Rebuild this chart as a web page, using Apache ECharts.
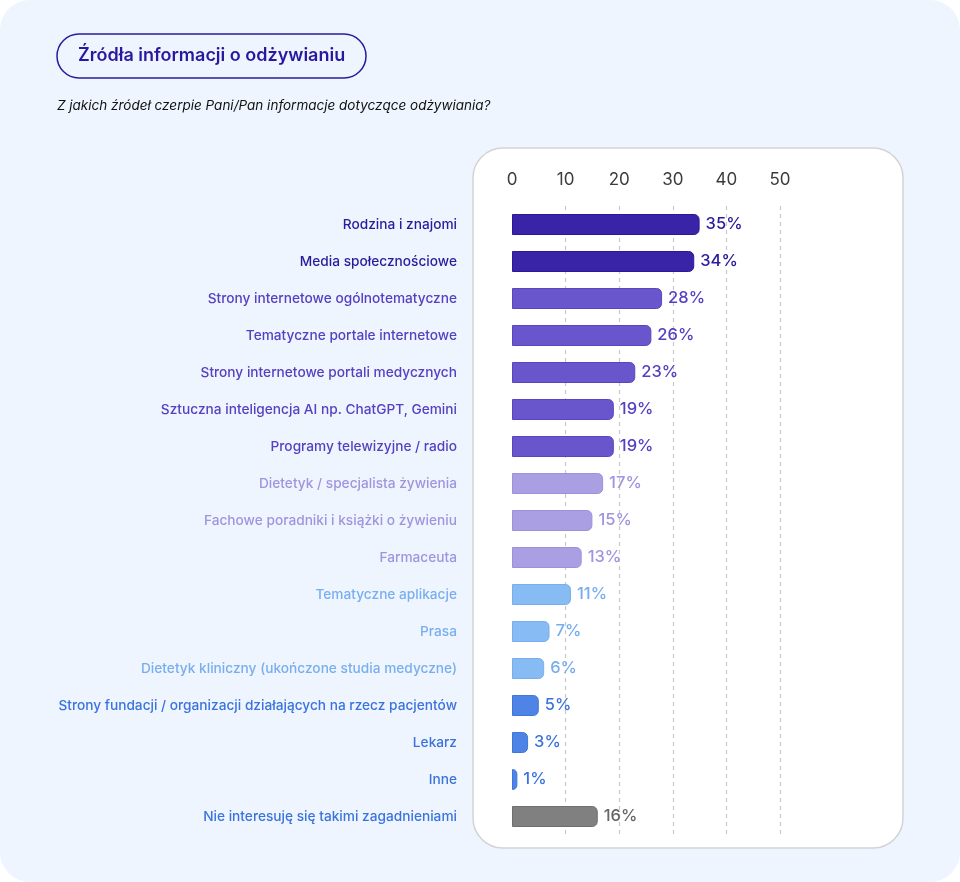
<!DOCTYPE html>
<html><head><meta charset="utf-8">
<script src="https://cdn.jsdelivr.net/npm/echarts@6/dist/echarts.min.js"></script>
<style>html,body{margin:0;padding:0;background:#fff;}#c{width:960px;height:882px;}</style>
</head><body><div id="c"></div>
<script>
const categories = [
  "Rodzina i znajomi",
  "Media społecznościowe",
  "Strony internetowe ogólnotematyczne",
  "Tematyczne portale internetowe",
  "Strony internetowe portali medycznych",
  "Sztuczna inteligencja AI np. ChatGPT, Gemini",
  "Programy telewizyjne / radio",
  "Dietetyk / specjalista żywienia",
  "Fachowe poradniki i książki o żywieniu",
  "Farmaceuta",
  "Tematyczne aplikacje",
  "Prasa",
  "Dietetyk kliniczny (ukończone studia medyczne)",
  "Strony fundacji / organizacji działających na rzecz pacjentów",
  "Lekarz",
  "Inne",
  "Nie interesuję się takimi zagadnieniami"
];
const values = [35, 34, 28, 26, 23, 19, 19, 17, 15, 13, 11, 7, 6, 5, 3, 1, 16];
const groups = ["dark","dark","mid","mid","mid","mid","mid","lav","lav","lav","lblue","lblue","lblue","blue","blue","blue","gray"];
const labelGroups = ["dark","dark","mid","mid","mid","mid","mid","lav","lav","lav","lblue","lblue","lblue","blue","blue","blue","blue"];
const tickValues = [0, 10, 20, 30, 40, 50];
const titleText = "Źródła informacji o odżywianiu";
const subtitleText = "Z jakich źródeł czerpie Pani/Pan informacje dotyczące odżywiania?";

const palette = {
  dark:  {fill:"#3924a8", border:"#2c1896", text:"#2a1a9c"},
  mid:   {fill:"#6a56cc", border:"#5a45c0", text:"#5640c2"},
  lav:   {fill:"#ab9fe4", border:"#9d90dc", text:"#a094df"},
  lblue: {fill:"#87bbf4", border:"#78aeee", text:"#79aeee"},
  blue:  {fill:"#4e84e6", border:"#3f76dd", text:"#3b73de"},
  gray:  {fill:"#808080", border:"#6f6f6f", text:"#666666"}
};
const FONT = "Inter, 'Noto Sans', sans-serif";

const chart = echarts.init(document.getElementById('c'));
chart.setOption({
  animation: false,
  textStyle: {fontFamily: FONT},
  graphic: [
    {type:'rect', z:-10, shape:{x:0,y:0,width:960,height:882,r:30}, style:{fill:'#eef5fe'}},
    {type:'rect', z:-9, shape:{x:473,y:148,width:430,height:700,r:30}, style:{fill:'#ffffff', stroke:'#d3d3d3', lineWidth:1.5}}
  ],
  title: [
    {text: titleText, left: 57, top: 34, padding: [13, 21, 13, 21], borderColor:'#2a1aa0', borderWidth:1.5, borderRadius:23,
     textStyle:{fontFamily:FONT, fontSize:18, fontWeight:600, color:'#2a17a0'}},
    {text: subtitleText, left: 52, top: 94,
     textStyle:{fontFamily:FONT, fontSize:13.5, fontWeight:400, fontStyle:'italic', color:'#111'}}
  ],
  grid: {left: 512, right: 180, top: 206, bottom: 47, containLabel: false},
  xAxis: {
    type:'value', position:'top', min: tickValues[0], max: tickValues[tickValues.length-1], interval: 10,
    axisLine:{show:false}, axisTick:{show:false},
    axisLabel:{margin:18, fontSize:17, color:'#3c3c3c', fontFamily:FONT},
    splitLine:{show:true, showMinLine:false, lineStyle:{type:[4,4], color:'#c8c8c8', width:1.2}}
  },
  yAxis: {
    type:'category', inverse:true, data: categories,
    axisLine:{show:false}, axisTick:{show:false},
    axisLabel:{
      margin:55, fontSize:13.7, fontWeight:500, fontFamily:FONT,
      color: (v, i) => palette[labelGroups[i]].text
    }
  },
  series: [{
    type:'bar', barWidth:21,
    data: values.map((v, i) => ({
      value: v,
      itemStyle: {color: palette[groups[i]].fill, borderColor: palette[groups[i]].border, borderWidth:1, borderRadius:[0,5,5,0]},
      label: {color: palette[groups[i]].text}
    })),
    label: {show:true, position:'right', distance:6, fontSize:16.5, fontWeight:500, fontFamily:FONT, formatter: p => p.value + '%'}
  }]
});
</script></body></html>
